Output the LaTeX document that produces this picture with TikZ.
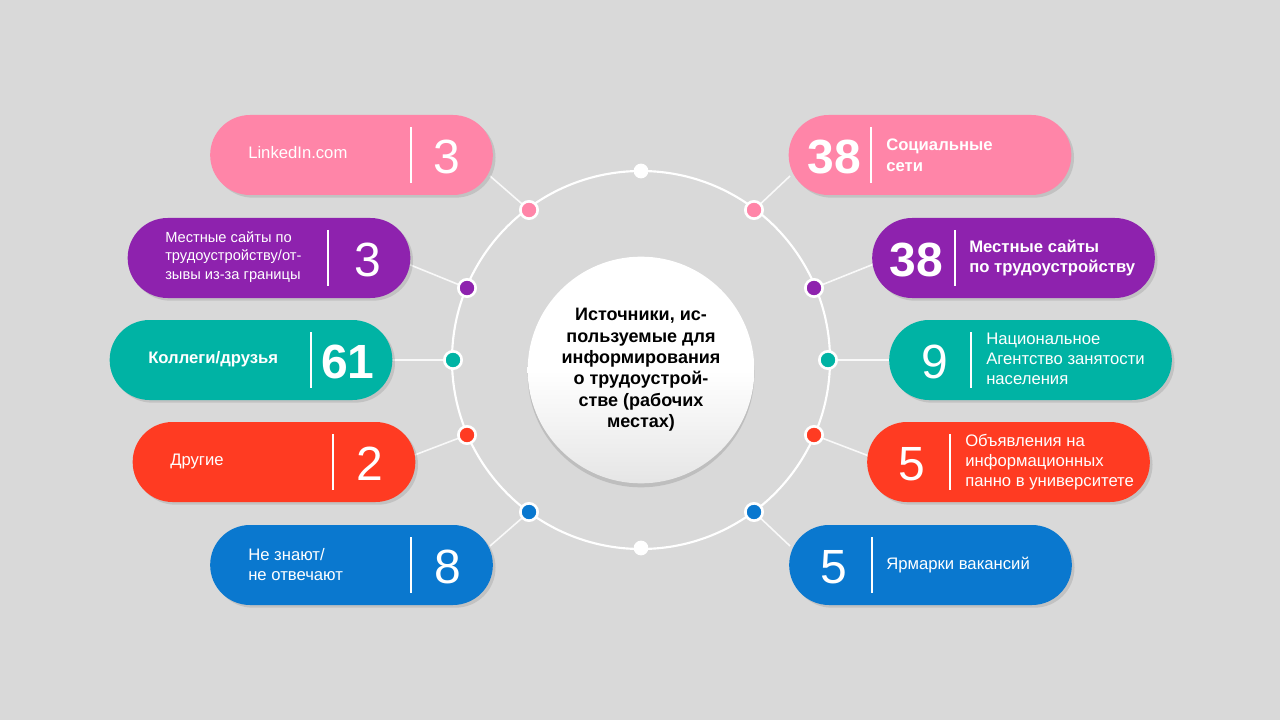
\documentclass[tikz,border=0pt]{standalone}
\usepackage{fontspec}
\setmainfont{Liberation Sans}
\usetikzlibrary{calc,shadows}
\definecolor{bg}{HTML}{D9D9D9}
\definecolor{cpink}{HTML}{FF85A8}
\definecolor{cpurple}{HTML}{8E22AE}
\definecolor{cteal}{HTML}{00B3A4}
\definecolor{cred}{HTML}{FF3B22}
\definecolor{cblue}{HTML}{0A78CF}
\tikzset{
 pill/.style={draw=none,rounded corners=29.9pt,minimum width=212pt,minimum height=60pt,inner sep=0pt,drop shadow={opacity=0.25,shadow xshift=2pt,shadow yshift=-2pt}},
 dotc/.style={circle,draw=white,line width=2pt,minimum size=13pt,inner sep=0pt},
 ring/.style={draw=white,line width=1.6pt},
 conn/.style={draw=white!95!gray,line width=1.2pt},
 num/.style={text=white,font=\fontsize{36}{40}\selectfont,inner sep=0pt},
 numb/.style={text=white,font=\fontsize{36}{40}\selectfont\bfseries,inner sep=0pt},
 lab/.style={text=white,font=\fontsize{12.5}{15}\selectfont,align=left,anchor=west,inner sep=0pt},
 labb/.style={text=white,font=\fontsize{12.5}{15.5}\selectfont\bfseries,align=left,anchor=west,inner sep=0pt},
 labs/.style={text=white,font=\fontsize{11}{14}\selectfont,align=left,anchor=west,inner sep=0pt},
 divl/.style={draw=white,line width=1pt}
}
\begin{document}
\begin{tikzpicture}[x=0.75pt,y=-0.75pt]
\fill[bg] (0,0) rectangle (1280,720);
\useasboundingbox (0,0) rectangle (1280,720);
\node[circle,ring,minimum size=283.5pt,inner sep=0pt] (ring) at (641,360) {};
\coordinate (eL1) at (490,176); \coordinate (eL2) at (408,264); \coordinate (eL3) at (390,360);
\coordinate (eL4) at (412,456); \coordinate (eL5) at (490,546);
\coordinate (eR1) at (790,176); \coordinate (eR2) at (874,264); \coordinate (eR3) at (891,360);
\coordinate (eR4) at (869,456); \coordinate (eR5) at (790,546);
\coordinate (dL1) at (529,210); \coordinate (dL2) at (467,288); \coordinate (dL3) at (453,360);
\coordinate (dL4) at (467,435); \coordinate (dL5) at (529,512);
\coordinate (dR1) at (754,210); \coordinate (dR2) at (814,288); \coordinate (dR3) at (828,360);
\coordinate (dR4) at (814,435); \coordinate (dR5) at (754,512);
\foreach \i in {L1,L2,L3,L4,L5,R1,R2,R3,R4,R5} \draw[conn] (d\i) -- (e\i);
\node[pill,fill=cpink] (pL1) at (351.5,155) {};
\node[pill,fill=cpurple] (pL2) at (269,258) {};
\node[pill,fill=cteal] (pL3) at (251,360) {};
\node[pill,fill=cred] (pL4) at (274,462) {};
\node[pill,fill=cblue] (pL5) at (351.5,565) {};
\node[pill,fill=cpink] (pR1) at (930,155) {};
\node[pill,fill=cpurple] (pR2) at (1013.5,258) {};
\node[pill,fill=cteal] (pR3) at (1030.5,360) {};
\node[pill,fill=cred] (pR4) at (1008.5,462) {};
\node[pill,fill=cblue] (pR5) at (930.5,565) {};
\foreach \x/\y in {411/155,328/258,311/360,333/462,411/565,871/155,955/258,971/360,950/462,872/565}
  \draw[divl] (\x,\y-28) -- (\x,\y+28);
\node[lab] (tL1) at (248,153) {LinkedIn.com};
\node[num] (nL1) at (447,157) {3};
\node[labs] (tL2) at (165,257) {Местные сайты по\\трудоустройству/от-\\зывы из-за границы};
\node[num] (nL2) at (368,260) {3};
\node[labb] (tL3) at (148,359) {Коллеги/друзья};
\node[numb] (nL3) at (348,362) {61};
\node[lab] (tL4) at (170,461) {Другие};
\node[num] (nL4) at (370,464) {2};
\node[lab] (tL5) at (248,565) {Не знают/\\не отвечают};
\node[num] (nL5) at (448,567) {8};
\node[numb] (nR1) at (834,157) {38};
\node[labb] (tR1) at (886,155) {Социальные\\сети};
\node[numb] (nR2) at (916,260) {38};
\node[labb] (tR2) at (969,258) {Местные сайты\\по трудоустройству};
\node[num] (nR3) at (935,362) {9};
\node[lab] (tR3) at (986,359) {Национальное\\Агентство занятости\\населения};
\node[num] (nR4) at (912,464) {5};
\node[lab] (tR4) at (965,462) {Объявления на\\информационных\\панно в университете};
\node[num] (nR5) at (834,567) {5};
\node[lab] (tR5) at (886,565) {Ярмарки вакансий};
\node[dotc,fill=white,draw=white,minimum size=9pt] (top) at (641,171) {};
\node[dotc,fill=white,draw=white,minimum size=9pt] (bot) at (641,548) {};
\node[dotc,fill=cpink] at (dL1) {}; \node[dotc,fill=cpink] at (dR1) {};
\node[dotc,fill=cpurple] at (dL2) {}; \node[dotc,fill=cpurple] at (dR2) {};
\node[dotc,fill=cteal] at (dL3) {}; \node[dotc,fill=cteal] at (dR3) {};
\node[dotc,fill=cred] at (dL4) {}; \node[dotc,fill=cred] at (dR4) {};
\node[dotc,fill=cblue] at (dL5) {}; \node[dotc,fill=cblue] at (dR5) {};
\node[circle,minimum size=170pt,inner sep=0pt,top color=white,bottom color=gray!20,middle color=white,
  drop shadow={opacity=0.3,shadow xshift=0pt,shadow yshift=-3pt},align=center,
  font=\fontsize{13.5}{16}\selectfont\bfseries] (center) at (641,370)
  {Источники, ис-\\пользуемые для\\информирования\\о трудоустрой-\\стве (рабочих\\местах)};
\end{tikzpicture}
\end{document}
